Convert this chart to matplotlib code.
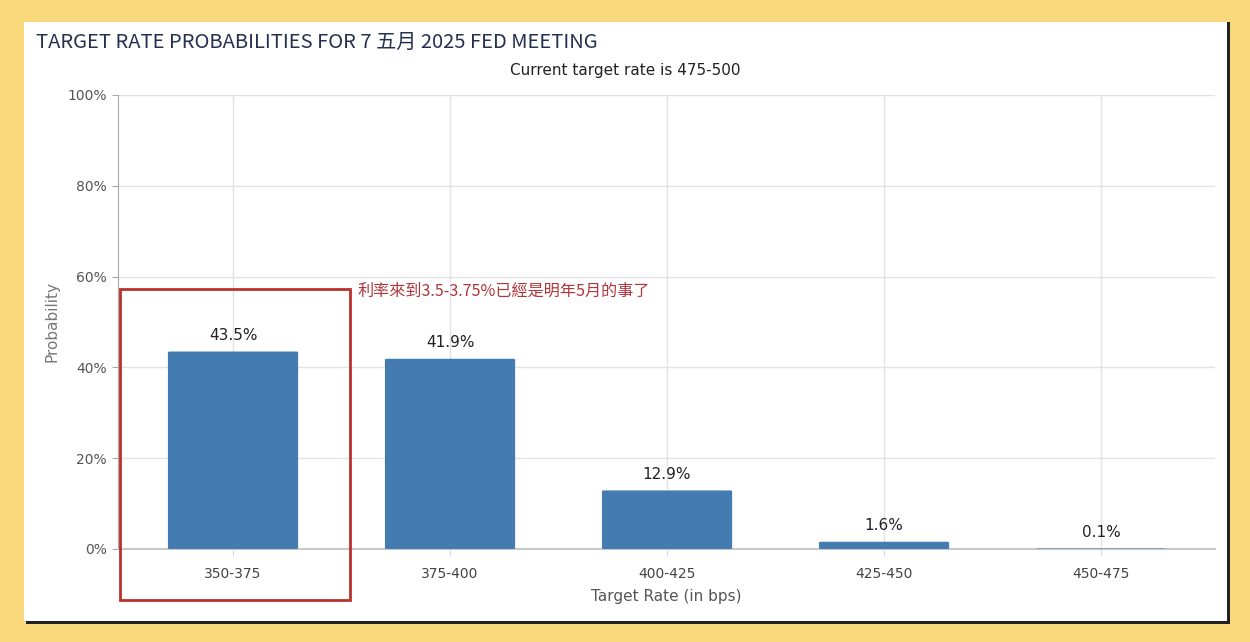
import numpy as np
import matplotlib.pyplot as plt
from matplotlib.patches import Rectangle, FancyBboxPatch

plt.rcParams["font.family"] = ["Noto Sans CJK TC", "DejaVu Sans"]

categories = ["350-375", "375-400", "400-425", "425-450", "450-475"]
probabilities = [43.5, 41.9, 12.9, 1.6, 0.1]
y_ticks = [0, 20, 40, 60, 80, 100]

title = "TARGET RATE PROBABILITIES FOR 7 五月 2025 FED MEETING"
subtitle = "Current target rate is 475-500"
note = "利率來到3.5-3.75%已經是明年5月的事了"

W, H = 1250, 642
fig = plt.figure(figsize=(W / 100, H / 100), dpi=100)
fig.patch.set_facecolor("#F9D97C")

# white panel with a dark edge on the right and bottom
fig.patches.append(Rectangle((26 / W, 1 - 624 / H), 1204 / W, 602 / H,
                             transform=fig.transFigure, facecolor="#222222",
                             edgecolor="none", zorder=0))
fig.patches.append(Rectangle((24 / W, 1 - 621 / H), 1203 / W, 599 / H,
                             transform=fig.transFigure, facecolor="white",
                             edgecolor="none", zorder=0))

ax = fig.add_axes([118 / W, 1 - 549 / H, 1097 / W, 454 / H])
ax.set_zorder(2)
ax.set_facecolor("none")

x = np.arange(len(categories))
bar_color = "#447CB2"
for xi, p in zip(x, probabilities):
    ax.add_patch(FancyBboxPatch((xi - 0.3, 0), 0.6, p,
                                boxstyle="round,pad=0,rounding_size=0.01",
                                mutation_aspect=20,
                                facecolor=bar_color, edgecolor="none", zorder=3))
    ax.text(xi, p + 1.9, f"{p}%", ha="center", va="bottom",
            fontsize=11, color="#222222", family="DejaVu Sans")

ax.set_xlim(-0.53, 4.525)
ax.set_ylim(0, 100)
ax.set_xticks(x)
ax.set_xticklabels(categories, family="DejaVu Sans")
ax.set_yticks(y_ticks)
ax.set_yticklabels([f"{t}%" for t in y_ticks], family="DejaVu Sans")
ax.tick_params(axis="y", colors="#555555", labelsize=10, length=4, width=0.8,
               color="#aaaaaa", pad=4)
ax.tick_params(axis="x", colors="#444444", labelsize=10, length=5, width=0.8,
               color="#dddddd", pad=8, direction="out")
ax.grid(True, color="#e2e2e2", linewidth=1, zorder=0)
for side in ["top", "right"]:
    ax.spines[side].set_visible(False)
ax.spines["left"].set_color("#aaaaaa")
ax.spines["bottom"].set_color("#c8c8c8")
ax.spines["bottom"].set_linewidth(1.5)

ax.set_xlabel("Target Rate (in bps)", fontsize=11, color="#555555",
              family="DejaVu Sans", labelpad=6)
ax.set_ylabel("Probability", fontsize=11, color="#777777",
              family="DejaVu Sans", labelpad=6)

# red highlight box around the first category
ax.add_patch(Rectangle((-0.52, -11.2), 1.06, 68.5, fill=False,
                       edgecolor="#B8322C", linewidth=2, clip_on=False, zorder=5))
ax.text(0.575, 56.8, note, ha="left", va="center", fontsize=11.6,
        color="#B0363A")

fig.text(36 / W, 1 - 42 / H, title, ha="left", va="center", fontsize=14.5,
         color="#263050")
fig.text(625 / W, 1 - 70 / H, subtitle, ha="center", va="center",
         fontsize=11, color="#222222", family=["DejaVu Sans", "Noto Sans CJK TC"])

fig.savefig("out.png", dpi=100, facecolor=fig.get_facecolor())
